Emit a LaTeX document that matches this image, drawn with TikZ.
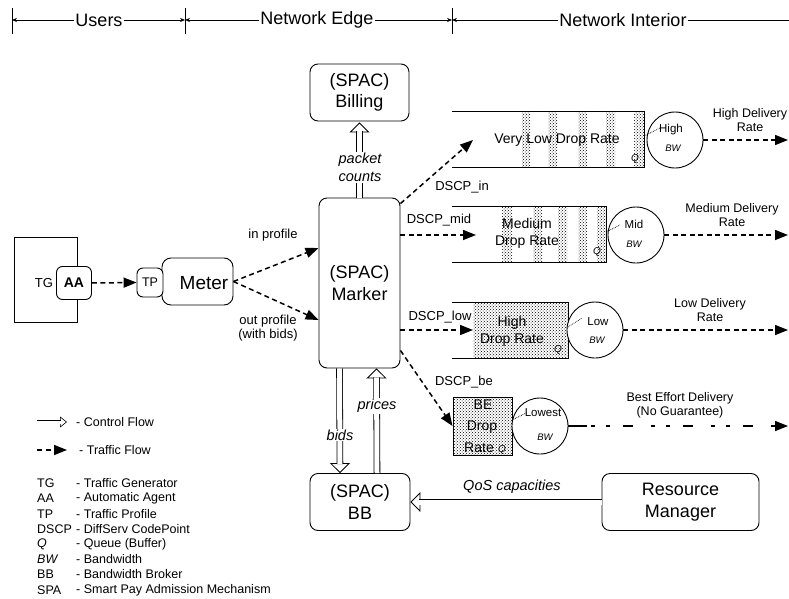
\documentclass[tikz,border=0pt]{standalone}
\usepackage{fontspec}
\setmainfont{Liberation Sans}
\usetikzlibrary{arrows.meta,patterns,calc}
\newcommand{\fsz}[2]{\fontsize{#1}{#2}\selectfont}
% control-flow arrow: hollow head drawn first, double shaft over its base
\newcommand{\ctrlarr}[2]{%
  \draw[line width=0.8pt, -{Triangle[open, fill=white, length=10pt, width=20pt, line width=0.8pt]}] ($(#2)!10pt!(#1)$) -- (#2);
  \draw[double, double distance=5pt, line width=0.8pt, shorten >=9pt] (#1) -- (#2);}
\newcommand{\ctrlarrsmall}[2]{%
  \draw[line width=0.6pt, -{Triangle[open, fill=white, length=7pt, width=11pt, line width=0.6pt]}] ($(#2)!7pt!(#1)$) -- (#2);
  \draw[double, double distance=3pt, line width=0.6pt, shorten >=6.3pt] (#1) -- (#2);}
\begin{document}
\begin{tikzpicture}[x=1pt,y=-1pt,
  bigbox/.style={draw, rounded corners=8pt, line width=0.9pt, fill=white, align=center, font=\fsz{18}{21.5}, inner sep=0pt},
  smallbox/.style={draw, rounded corners=6pt, line width=0.9pt, fill=white, inner sep=0pt},
  hdr/.style={font=\fsz{18}{18}, fill=white, inner xsep=1pt, inner ysep=0pt},
  hdrline/.style={line width=0.7pt},
  hdrtip/.style={line width=0.7pt, -{Stealth[length=5pt,width=4pt]}},
  lbl/.style={font=\fsz{13}{14}, inner sep=1pt, align=center},
  dlbl/.style={font=\fsz{12.5}{14}, inner sep=1pt, align=center},
  ilbl/.style={font=\fsz{14.5}{18}\itshape, inner sep=1pt, fill=white, align=center},
  qtxt/.style={font=\fsz{14}{17}, inner sep=0pt, align=center},
  qlbl/.style={font=\fsz{10}{10}\itshape, inner sep=0pt},
  ctxt/.style={font=\fsz{11.5}{11.5}, inner sep=0pt},
  bwtxt/.style={font=\fsz{9.5}{9.5}\itshape, inner sep=0pt},
  leg/.style={font=\fsz{12.5}{13}, inner sep=0pt, anchor=west},
  trf/.style={line width=1.5pt, dash pattern=on 5pt off 3.5pt, -{Triangle[length=13pt,width=10pt]}},
  srv/.style={draw, circle, line width=0.9pt, minimum size=56pt, inner sep=0pt, fill=white},
  qline/.style={line width=0.9pt},
  hatch/.style={pattern=crosshatch dots, pattern color=black},
  stip/.style={densely dotted, line width=0.7pt}
]
\useasboundingbox (0,0) rectangle (789,599);

% ---------- header ----------
\coordinate (t1) at (12,20);
\coordinate (t2) at (185,20);
\coordinate (t3) at (452,20);
\coordinate (t4) at (789,20);
\draw[hdrline] (12,8) -- (12,34);
\draw[hdrline] (185,8) -- (185,34);
\draw[hdrline] (452,8) -- (452,34);
\node[hdr] (husers) at (99,20) {Users};
\node[hdr] (hedge) at (317,20) {Network Edge};
\node[hdr] (hint) at (623,20) {Network Interior};
\draw[hdrtip] (husers.west) -- (t1);
\draw[hdrtip] (husers.east) -- (t2);
\draw[hdrtip] (hedge.west) -- (t2);
\draw[hdrtip] (hedge.east) -- (t3);
\draw[hdrtip] (hint.west) -- (t3);
\draw[hdrline] (hint.east) -- (t4);

% ---------- users ----------
\node[draw, line width=0.9pt, minimum width=63pt, minimum height=85pt, inner sep=0pt] (tg) at (45.5,279.5) {};
\node[font=\fsz{13}{13}, inner sep=0pt] (tgtxt) at (44,283) {TG};
\node[smallbox, minimum width=35pt, minimum height=33pt, font=\fsz{14}{14}\bfseries] (aa) at (74,283) {AA};

% ---------- edge ----------
\node[bigbox, rounded corners=9pt, minimum width=71pt, minimum height=47pt] (meter) at (197.5,281.5) {};
\node[font=\fsz{19}{19}, inner sep=0pt] (metertxt) at (204,283) {Meter};
\node[smallbox, minimum width=26pt, minimum height=29pt, font=\fsz{12.5}{12.5}] (tp) at (150,282.5) {TP};
\draw[trf] (aa.east) -- (tp.west);

\node[bigbox, minimum width=81pt, minimum height=170pt] (marker) at (359.5,283) {(SPAC)\\Marker};
\node[bigbox, minimum width=99pt, minimum height=57pt] (billing) at (359.5,92.5) {(SPAC)\\Billing};
\node[bigbox, minimum width=100pt, minimum height=57pt] (bb) at (360,502) {(SPAC)\\BB};
\node[bigbox, minimum width=157pt, minimum height=57pt] (rm) at (680.5,502) {Resource\\Manager};

\draw[trf] (meter.east) -- ([yshift=35pt]marker.west);
\draw[trf] (meter.east) -- ([yshift=-37pt]marker.west);
\node[lbl] (inprof) at (273,235) {in profile};
\node[lbl] (outprof) at (268,328) {out profile\\(with bids)};

% control flows
\coordinate (pcA) at (marker.north);
\coordinate (pcB) at ([yshift=-1pt]billing.south);
\ctrlarr{pcA}{pcB}
\node[ilbl] (pcounts) at (360,167.5) {packet\\counts};
\coordinate (bidA) at ([xshift=-20pt]marker.south);
\coordinate (bidB) at ([xshift=-20pt]bb.north);
\ctrlarr{bidA}{bidB}
\node[ilbl] (bidsl) at (340,435) {bids};
\coordinate (prA) at ([xshift=17pt]bb.north);
\coordinate (prB) at ([xshift=17pt]marker.south);
\ctrlarr{prA}{prB}
\node[ilbl] (pricesl) at (377,406) {prices};
\coordinate (qosA) at (rm.west);
\coordinate (qosB) at (bb.east);
\ctrlarr{qosA}{qosB}
\node[ilbl, fill=none] (qosl) at (512,487) {QoS capacities};

% ---------- queue 1 ----------
\foreach \a/\b in {522/530,548/557,578/587,606/615,634/644}
  \fill[hatch] (\a,111) rectangle (\b,167);
\draw[qline] (452,111) -- (644,111) -- (644,167) -- (452,167);
\node[qtxt] (q1t) at (557,140) {Very Low Drop Rate};
\node[qlbl] (q1q) at (635,159) {Q};
\node[srv] (s1) at (675,140) {};
\node[ctxt] (s1a) at (671,130) {High};
\node[bwtxt] (s1b) at (673,148) {BW};
\draw[stip] (644,136) -- (660,128);
\coordinate (q1in) at (473,140);
\coordinate (e1) at (788,140);
\draw[trf] ([yshift=-6pt]marker.north east) -- (q1in);
\draw[trf] (s1.east) -- (e1);
\node[dlbl] (d1) at (750,120) {High Delivery\\Rate};
\node[lbl] (dscpin) at (462,187) {DSCP\_in};

% ---------- queue 2 ----------
\foreach \a/\b in {502/512,533/542,558/567,578/587,597/606}
  \fill[hatch] (\a,206) rectangle (\b,262);
\draw[qline] (452,206) -- (606,206) -- (606,262) -- (452,262);
\node[qtxt] (q2t) at (527,233.5) {Medium\\Drop Rate};
\node[qlbl] (q2q) at (597,252) {Q};
\node[srv] (s2) at (636,235) {};
\node[ctxt] (s2a) at (634,224) {Mid};
\node[bwtxt] (s2b) at (634,244) {BW};
\draw[stip] (606,232) -- (620,225);
\coordinate (q2in) at (476,235);
\coordinate (e2) at (788,235);
\draw[trf] ([yshift=48pt]marker.east) -- (q2in);
\draw[trf] (s2.east) -- (e2);
\node[dlbl] (d2) at (732,215) {Medium Delivery\\Rate};
\node[lbl] (dscpmid) at (439,220) {DSCP\_mid};

% ---------- queue 3 ----------
\fill[hatch] (473,302) rectangle (568,358);
\draw[qline] (452,302) -- (568,302) -- (568,358) -- (452,358);
\node[qtxt] (q3t) at (512,331) {High\\Drop Rate};
\node[qlbl] (q3q) at (558,350) {Q};
\node[srv] (s3) at (595,330) {};
\node[ctxt] (s3a) at (598,322) {Low};
\node[bwtxt] (s3b) at (597,340) {BW};
\draw[stip] (568,327) -- (582,318);
\coordinate (q3in) at (473,330);
\coordinate (e3) at (788,330);
\draw[trf] ([yshift=-47pt]marker.east) -- (q3in);
\draw[trf] (s3.east) -- (e3);
\node[dlbl] (d3) at (710,310) {Low Delivery\\Rate};
\node[lbl] (dscplow) at (440,317) {DSCP\_low};

% ---------- queue 4 ----------
\node[draw, qline, hatch, minimum width=59pt, minimum height=58pt, inner sep=0pt] (qbe) at (482.5,426) {};
\node[qtxt] (q4a) at (483,405) {BE};
\node[qtxt] (q4b) at (482,427) {Drop};
\node[qtxt] (q4c) at (479,448) {Rate};
\node[qlbl] (q4q) at (502,450) {Q};
\node[srv] (s4) at (540,426) {};
\node[ctxt] (s4a) at (543,413) {Lowest};
\node[bwtxt] (s4b) at (545,437) {BW};
\draw[stip] (512,420) -- (526,413);
\draw[trf] ([yshift=18pt]marker.south east) -- (qbe.west);
\coordinate (be1) at (587,426);
\coordinate (e4) at (788,426);
\draw[line width=1.5pt] (s4.east) -- (be1);
\draw[line width=1.5pt, dash pattern=on 4pt off 11pt on 4pt off 13pt on 10pt off 18pt, dash phase=56pt, -{Triangle[length=13pt,width=10pt]}] (be1) -- (e4);
\node[dlbl] (d4) at (680,405.5) {Best Effort Delivery\\(No Guarantee)};
\node[lbl] (dscpbe) at (464,382) {DSCP\_be};

% ---------- legend ----------
\coordinate (lc1) at (37,422);
\coordinate (lc2) at (67,422);
\ctrlarrsmall{lc1}{lc2}
\node[leg] (lct) at (76,422) {- Control Flow};
\coordinate (lt1) at (37,450);
\coordinate (lt2) at (67,450);
\draw[line width=1.5pt, dash pattern=on 5pt off 3.5pt, -{Triangle[length=13pt,width=10pt]}] (lt1) -- (lt2);
\node[leg] (ltt) at (79,450) {- Traffic Flow};

\node[leg] (ab1) at (37,483) {TG};
\node[leg] (ab2) at (37,498) {AA};
\node[leg] (ab3) at (37,514) {TP};
\node[leg] (ab4) at (37,529) {DSCP};
\node[leg] (ab5) at (37,544) {\itshape Q};
\node[leg] (ab6) at (37,559) {\itshape BW};
\node[leg] (ab7) at (37,574) {BB};
\node[leg] (ab8) at (37,590) {SPA};
\node[leg] (de1) at (76,483) {- Traffic Generator};
\node[leg] (de2) at (76,498) {- Automatic Agent};
\node[leg] (de3) at (76,514) {- Traffic Profile};
\node[leg] (de4) at (76,529) {- DiffServ CodePoint};
\node[leg] (de5) at (76,544) {- Queue (Buffer)};
\node[leg] (de6) at (76,559) {- Bandwidth};
\node[leg] (de7) at (76,574) {- Bandwidth Broker};
\node[leg] (de8) at (76,590) {- Smart Pay Admission Mechanism};
\end{tikzpicture}
\end{document}
